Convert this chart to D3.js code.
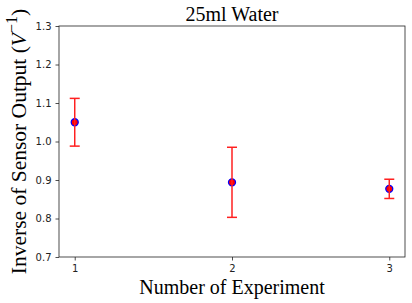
<!DOCTYPE html>
<html>
<head>
<meta charset="utf-8">
<script src="https://cdn.jsdelivr.net/npm/d3@7"></script>
<style>
  body { margin: 0; background: #fff; }
  text.tick-label { font-family: "DejaVu Sans", sans-serif; font-size: 10px; fill: #222; }
  .serif { font-family: "Liberation Serif", "Times New Roman", serif; fill: #000; }
</style>
</head>
<body>
<div id="chart"></div>
<script>
const experiments = [1, 2, 3];
const means = [1.05, 0.894, 0.877];
const errors = [0.062, 0.091, 0.025];
const yTicks = [0.7, 0.8, 0.9, 1.0, 1.1, 1.2, 1.3];

const width = 412, height = 303;
const margin = { top: 26, right: 7, bottom: 46, left: 59 };

const svg = d3.select("#chart")
    .append("svg")
    .attr("width", width)
    .attr("height", height);

const x = d3.scaleLinear().domain([0.9, 3.1]).range([margin.left, width - margin.right]);
const y = d3.scaleLinear().domain([0.7, 1.3]).range([height - margin.bottom, margin.top]);

// axes
const xAxis = svg.append("g")
    .attr("transform", `translate(0,${height - margin.bottom})`)
    .call(d3.axisBottom(x).tickValues(experiments).tickFormat(d3.format("d")).tickSize(3.5).tickPadding(4));
const yAxis = svg.append("g")
    .attr("transform", `translate(${margin.left},0)`)
    .call(d3.axisLeft(y).tickValues(yTicks).tickFormat(d3.format(".1f")).tickSize(3.5).tickPadding(4));

[xAxis, yAxis].forEach(a => {
    a.select(".domain").remove();
    a.selectAll(".tick line").attr("stroke", "#222").attr("stroke-width", 0.8);
    a.selectAll(".tick text").attr("class", "tick-label");
});

// frame
svg.append("rect")
    .attr("x", margin.left)
    .attr("y", margin.top)
    .attr("width", width - margin.left - margin.right)
    .attr("height", height - margin.top - margin.bottom)
    .attr("fill", "none")
    .attr("stroke", "#222")
    .attr("stroke-width", 0.8);

const pts = experiments.map((e, i) => ({ x: e, m: means[i], err: errors[i] }));

// markers
svg.append("g").selectAll("circle")
    .data(pts)
    .join("circle")
    .attr("cx", d => x(d.x))
    .attr("cy", d => y(d.m))
    .attr("r", 3.5)
    .attr("fill", "red")
    .attr("stroke", "blue")
    .attr("stroke-width", 1.3);

// error bars
const eb = svg.append("g").attr("stroke", "#ff2020").attr("stroke-width", 1.5);
eb.selectAll("line.v")
    .data(pts)
    .join("line")
    .attr("class", "v")
    .attr("x1", d => x(d.x)).attr("x2", d => x(d.x))
    .attr("y1", d => y(d.m - d.err)).attr("y2", d => y(d.m + d.err));
eb.selectAll("line.top")
    .data(pts)
    .join("line")
    .attr("class", "top")
    .attr("x1", d => x(d.x) - 5).attr("x2", d => x(d.x) + 5)
    .attr("y1", d => y(d.m + d.err)).attr("y2", d => y(d.m + d.err));
eb.selectAll("line.bot")
    .data(pts)
    .join("line")
    .attr("class", "bot")
    .attr("x1", d => x(d.x) - 5).attr("x2", d => x(d.x) + 5)
    .attr("y1", d => y(d.m - d.err)).attr("y2", d => y(d.m - d.err));

// title and labels
svg.append("text")
    .attr("class", "serif")
    .attr("x", (margin.left + width - margin.right) / 2)
    .attr("y", 21)
    .attr("text-anchor", "middle")
    .attr("font-size", 20)
    .text("25ml Water");

svg.append("text")
    .attr("class", "serif")
    .attr("x", (margin.left + width - margin.right) / 2)
    .attr("y", 294)
    .attr("text-anchor", "middle")
    .attr("font-size", 20)
    .text("Number of Experiment");

const yl = svg.append("text")
    .attr("class", "serif")
    .attr("transform", `translate(26,${(margin.top + height - margin.bottom) / 2}) rotate(-90)`)
    .attr("text-anchor", "middle")
    .attr("font-size", 21.5);
yl.append("tspan").text("Inverse of Sensor Output (");
yl.append("tspan").attr("font-style", "italic").text("V");
yl.append("tspan").attr("font-size", 16).attr("dy", -9).text("\u22121");
yl.append("tspan").attr("dy", 9).text(")");
</script>
</body>
</html>
